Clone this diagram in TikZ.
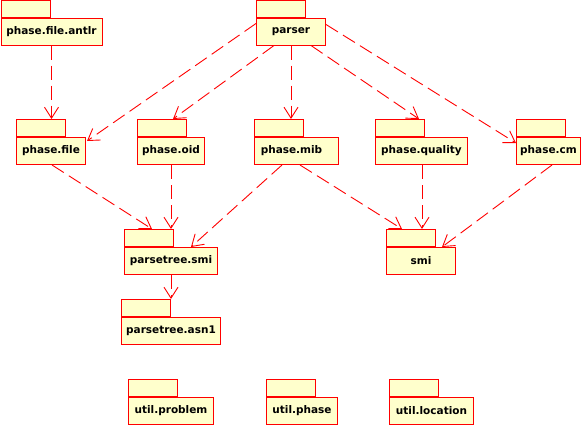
\documentclass[tikz,border=0pt]{standalone}
\usepackage{fontspec}
\setsansfont{DejaVu Sans}
\usetikzlibrary{arrows.meta,calc}
\definecolor{pkgfill}{HTML}{FFFFCC}
\definecolor{pkgline}{HTML}{FF0000}
\tikzset{
  pkgbody/.style={draw=pkgline, fill=pkgfill, line width=1pt, minimum height=27pt,
    inner sep=0pt, anchor=north west, font=\sffamily\bfseries\fontsize{10.5}{12}\selectfont},
  pkgtab/.style={draw=pkgline, fill=pkgfill, line width=1pt, minimum width=49pt,
    minimum height=17pt, inner sep=0pt, anchor=south west},
  dep/.style={draw=pkgline, line width=0.9pt, dash pattern=on 14pt off 6pt,
    -{Straight Barb[length=11pt,width=14pt,line width=0.9pt]}}
}
% \pkgdraw{name}{x}{y of tab top}{width}{text}
\newcommand{\pkgdraw}[5]{%
  \node[pkgtab] (#1-tab) at (#2,#3+17) {};
  \node[pkgbody, minimum width=#4pt] (#1) at (#2,#3+17) {#5};
}
\begin{document}
\begin{tikzpicture}[x=1pt,y=-1pt]
\useasboundingbox (0,0) rectangle (586,426);
\pkgdraw{antlr}{0.5}{0.5}{101}{phase.file.antlr}
\pkgdraw{parser}{256}{0.5}{69}{parser}
\pkgdraw{pfile}{16}{120}{69}{phase.file}
\pkgdraw{poid}{137}{120}{67}{phase.oid}
\pkgdraw{pmib}{254}{120}{84}{\hspace*{-10pt}phase.mib}
\pkgdraw{pqual}{375}{120}{92}{phase.quality}
\pkgdraw{pcm}{516}{120}{64}{phase.cm}
\pkgdraw{ptsmi}{124}{230}{93}{parsetree.smi}
\pkgdraw{smi}{386}{230}{69}{smi}
\pkgdraw{asn}{121}{300}{99}{parsetree.asn1}
\pkgdraw{uprob}{128}{380}{85}{util.problem}
\pkgdraw{uphase}{266}{380}{71}{util.phase}
\pkgdraw{uloc}{389}{380}{84}{util.location}

\coordinate (s1) at ($(parser.south west)+(35,0)$);
\coordinate (s2) at ($(poid.south west)+(34,0)$);
\coordinate (s3) at ($(pqual.south west)+(47,0)$);
\coordinate (s4) at ($(ptsmi.south west)+(47,0)$);

\draw[dep] (antlr.south) -- (antlr.south |- pfile-tab.north);
\draw[dep] ($(parser.north west)+(0,6)$) -- ($(pfile.north east)+(1,4)$);
\draw[dep] ($(parser.south west)+(18,0)$) -- ($(poid-tab.north west)+(36,0)$);
\draw[dep] (s1) -- (s1 |- pmib-tab.north);
\draw[dep] ($(parser.south west)+(55,0)$) -- ($(pqual-tab.north west)+(44,0)$);
\draw[dep] ($(parser.north east)+(0,7)$) -- ($(pcm.north west)+(0,6)$);
\draw[dep] ($(pfile.south west)+(36,0)$) -- ($(ptsmi-tab.north west)+(28,0)$);
\draw[dep] (s2) -- (s2 |- ptsmi-tab.north);
\draw[dep] ($(pmib.south west)+(28,0)$) -- ($(ptsmi.north west)+(67,0)$);
\draw[dep] ($(pmib.south west)+(46,0)$) -- ($(smi-tab.north west)+(16,0)$);
\draw[dep] (s3) -- (s3 |- smi-tab.north);
\draw[dep] ($(pcm.south west)+(36,0)$) -- ($(smi.north west)+(56,0)$);
\draw[dep] (s4) -- (s4 |- asn-tab.north);
\end{tikzpicture}
\end{document}
